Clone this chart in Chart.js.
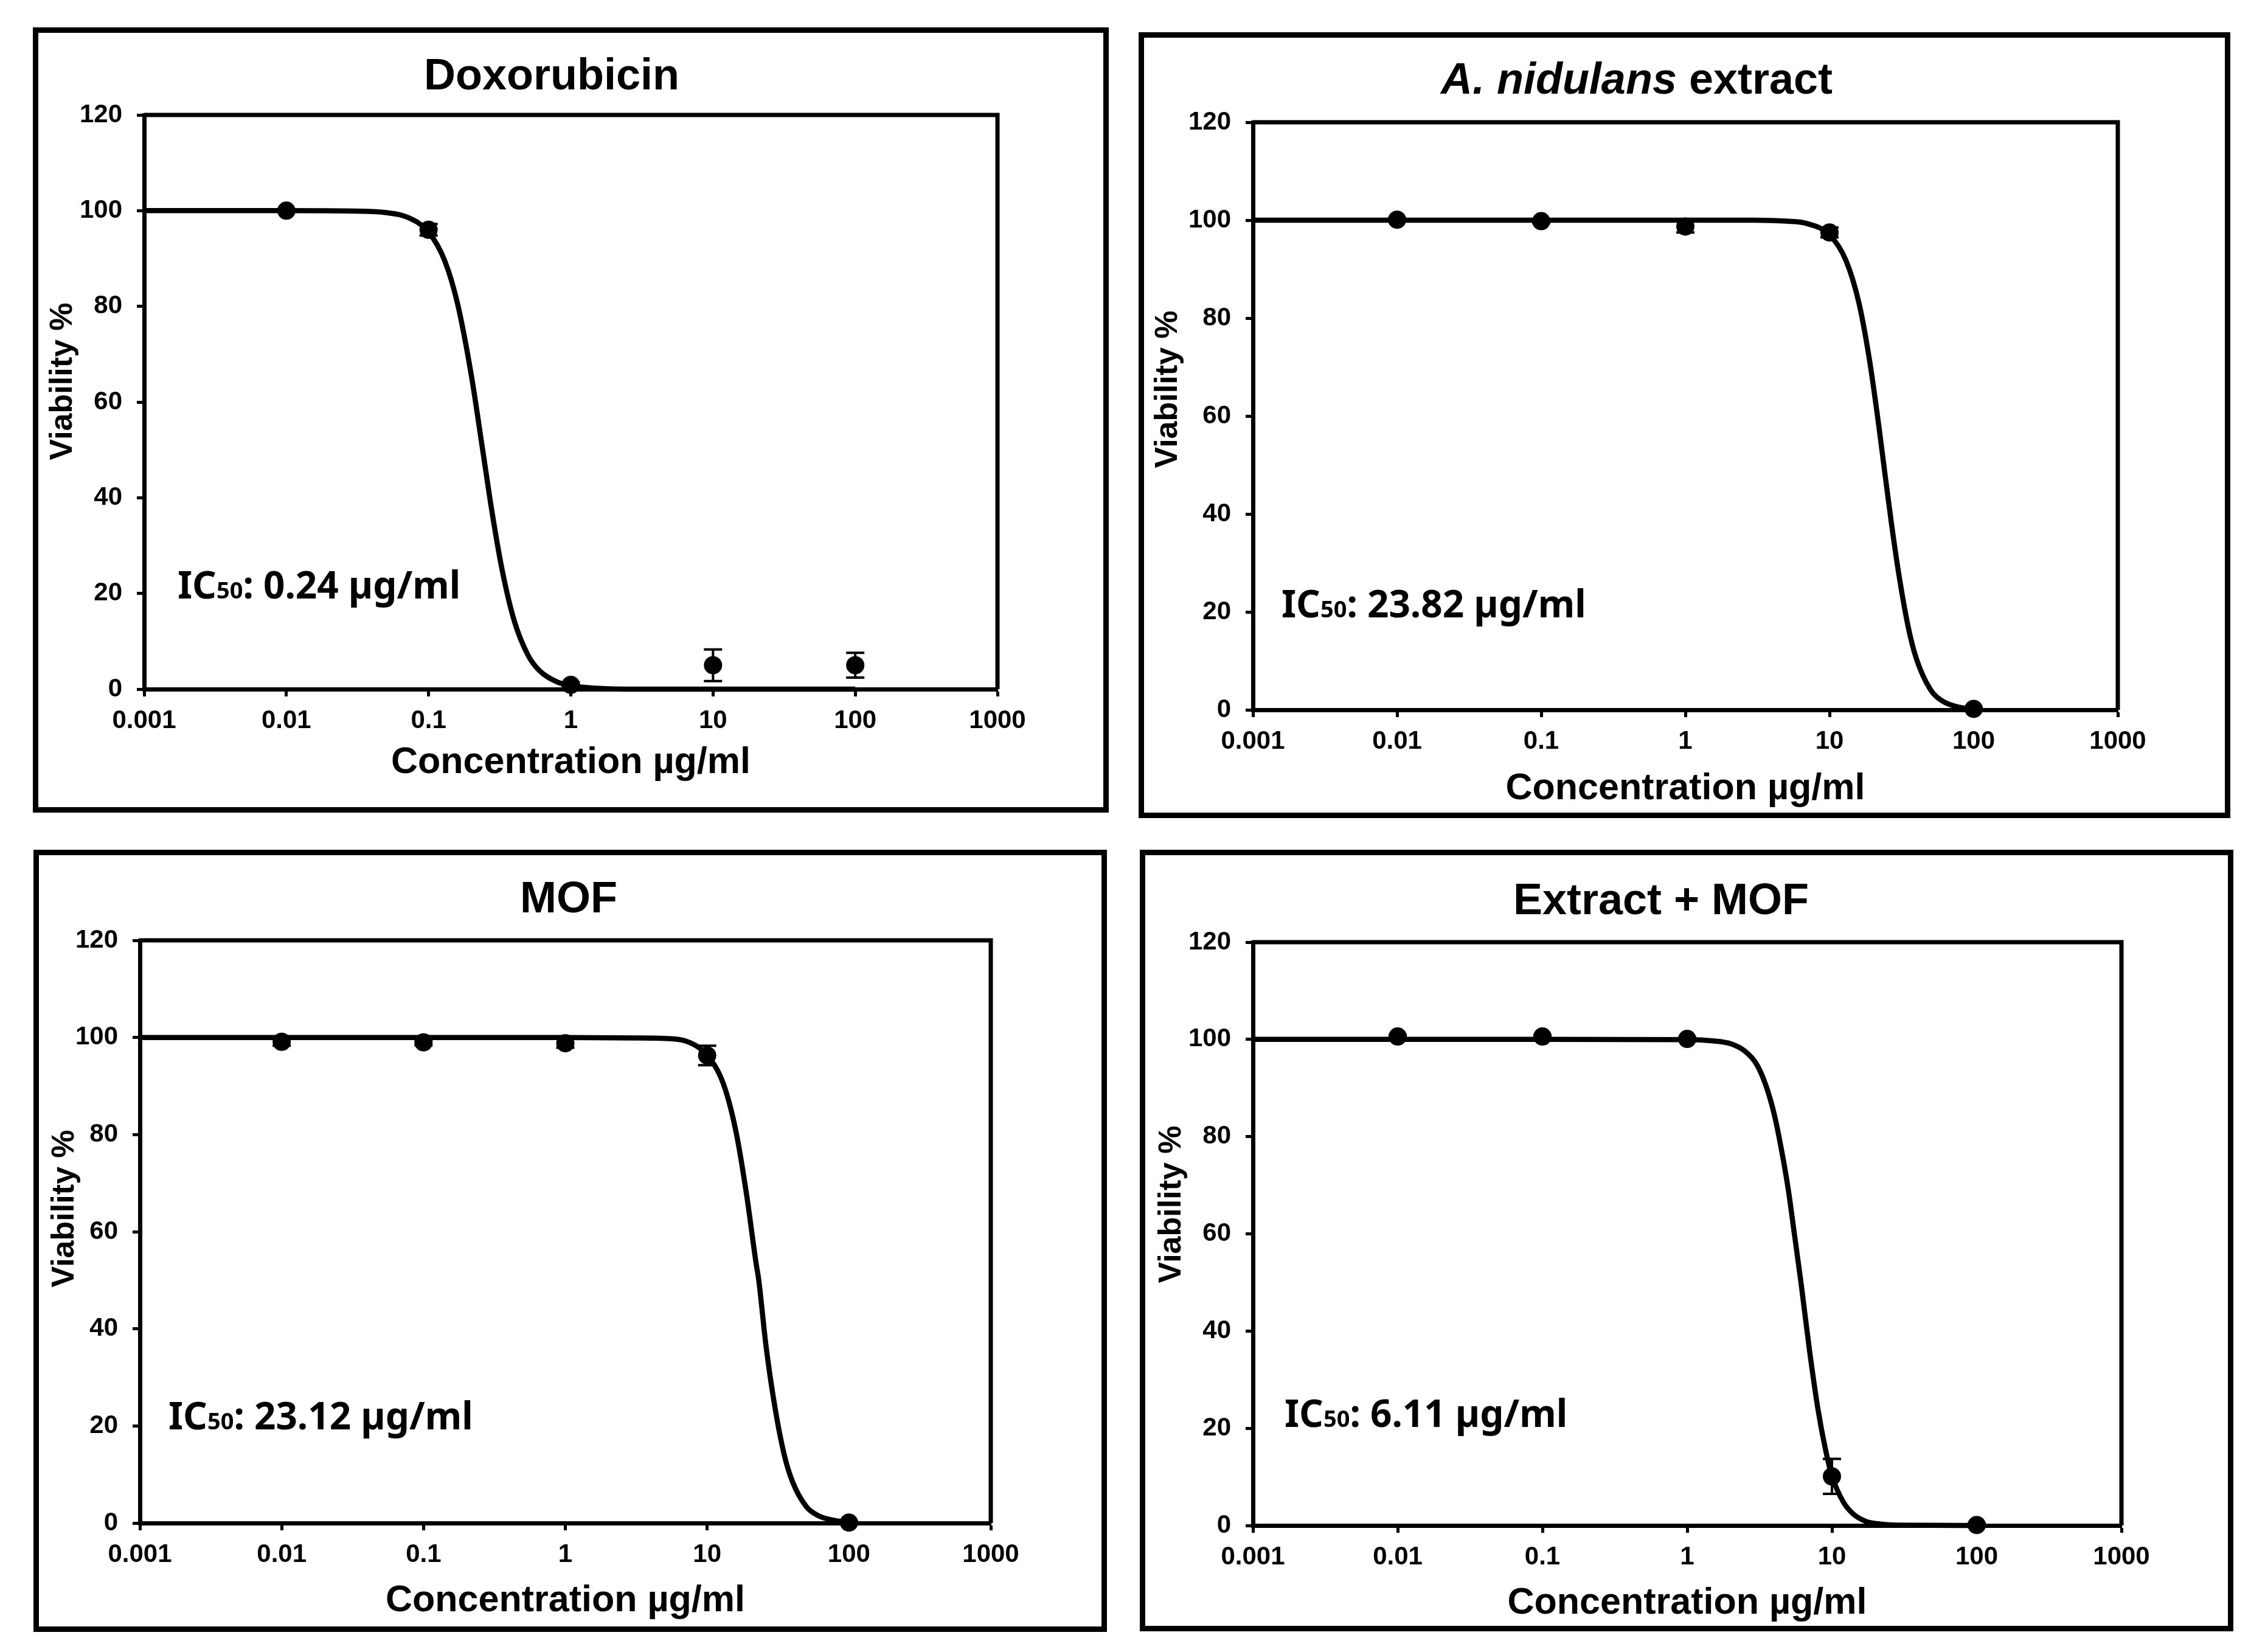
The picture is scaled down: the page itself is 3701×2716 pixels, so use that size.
<!DOCTYPE html>
<html>
<head>
<meta charset="utf-8">
<script src="https://cdn.jsdelivr.net/npm/chart.js@4.4.1/dist/chart.umd.min.js"></script>
<style>
  html, body { margin: 0; padding: 0; background: #fff; }
  body { width: 3701px; height: 2716px; position: relative; overflow: hidden; }
  .panel { position: absolute; border: 9px solid #000; box-sizing: border-box; background: #fff; }
  .panel canvas { position: absolute; left: 0; top: 0; }
</style>
</head>
<body>
<script>
// ---------------- data ----------------
const xTicks = [0.001, 0.01, 0.1, 1, 10, 100, 1000];
const xTickLabels = ['0.001', '0.01', '0.1', '1', '10', '100', '1000'];
const yTicks = [0, 20, 40, 60, 80, 100, 120];
const yTickLabels = ['0', '20', '40', '60', '80', '100', '120'];

// tested concentrations (µg/ml)
const doseX = [0.01, 0.1, 1, 10, 100];

// Doxorubicin
const doxoY = [100, 96, 0.9, 5, 5];
const doxoErr = [0.3, 1.2, 0.5, 3.3, 2.6];
const doxoCurveX = [0.001, 0.01, 0.03, 0.05, 0.07, 0.1, 0.13, 0.16, 0.2, 0.24, 0.28, 0.33, 0.4, 0.5, 0.6, 0.8, 1, 1.5, 3, 10, 100];
const doxoCurveY = [100, 100, 99.9, 99.6, 98.7, 95.5, 89.5, 80.5, 65.5, 50, 36.8, 24.7, 14.3, 7.1, 3.9, 1.5, 0.7, 0.2, 0, 0, 0];

// A. nidulans extract
const extractY = [100.1, 99.8, 98.7, 97.5, 0.2];
const extractErr = [0.3, 0.4, 1.2, 1.0, 0.3];
const extractCurveX = [0.001, 0.01, 0.1, 1, 3, 5, 7, 10, 13, 16, 19, 22, 24, 27, 30, 35, 40, 50, 60, 80, 100];
const extractCurveY = [100, 100, 100, 100, 100, 99.8, 99.3, 97.0, 91.8, 83.1, 71.2, 57.9, 49.2, 37.7, 28.4, 17.2, 10.5, 4.2, 1.9, 0.5, 0.2];

// MOF
const mofY = [99.1, 99.0, 98.8, 96.3, 0.1];
const mofErr = [0.8, 0.6, 0.9, 2.0, 0.3];
const mofCurveX = [0.001, 0.01, 0.1, 1, 3, 5, 7, 10, 13, 16, 19, 22, 23.12, 26, 30, 35, 40, 50, 60, 80, 100];
const mofCurveY = [100, 100, 100, 100, 99.9, 99.8, 99.3, 96.3, 90.5, 80.5, 67.5, 54, 50, 36.5, 24, 14, 8.5, 3.4, 1.6, 0.5, 0.2];

// Extract + MOF
const comboY = [100.6, 100.6, 100.1, 10.1, 0.1];
const comboErr = [0.3, 0.3, 0.3, 3.6, 0.3];
const comboCurveX = [0.001, 0.01, 0.1, 1, 1.5, 2, 2.5, 3, 3.5, 4, 4.5, 5, 5.5, 6.11, 7, 8, 9, 10, 12, 14, 17, 20, 30, 100];
const comboCurveY = [100, 100, 100, 99.95, 99.7, 99.1, 97.6, 95, 90.5, 84.5, 77, 69, 60, 50, 36, 24, 15.8, 10.2, 4.8, 2.4, 0.9, 0.4, 0.05, 0];

// ---------------- layout (page pixels) ----------------
const BORDER = 9;
const SANS = "'Liberation Sans', Arial, sans-serif";
const LABEL_FONT = "'Noto Sans', 'Open Sans', sans-serif";

// tick labels in the original are a narrow face; use one if present
function hasFont(name) {
  const c = document.createElement('canvas').getContext('2d');
  c.font = 'bold 40px monospace';
  const a = c.measureText('0.001 1000').width;
  c.font = "bold 40px '" + name + "', monospace";
  return c.measureText('0.001 1000').width !== a;
}
const narrow = ['Liberation Sans Narrow', 'Arial Narrow', 'Noto Sans Condensed'].find(hasFont);
const TICK_FONT = narrow ? "'" + narrow + "', " + SANS : SANS;
const TICK_SIZE = narrow ? 44 : 42;

const panels = [
  {
    title: [{text: 'Doxorubicin'}],
    ic50: '0.24 µg/ml',
    y: doxoY, err: doxoErr, curveX: doxoCurveX, curveY: doxoCurveY,
    box: {l: 54, t: 45, r: 1823, b: 1336},
    plot: {l: 237, t: 189, r: 1640, b: 1133},
    titlePos: [907, 121], yTitlePos: [99, 627], xTitleY: 1254, icPos: [292, 984]
  },
  {
    title: [{text: 'A. nidulans', italic: true}, {text: ' extract'}],
    ic50: '23.82 µg/ml',
    y: extractY, err: extractErr, curveX: extractCurveX, curveY: extractCurveY,
    box: {l: 1872, t: 53, r: 3667, b: 1345},
    plot: {l: 2060, t: 201, r: 3482, b: 1167},
    titlePos: [2691, 128], yTitlePos: [1916, 640], xTitleY: 1297, icPos: [2107, 1015]
  },
  {
    title: [{text: 'MOF'}],
    ic50: '23.12 µg/ml',
    y: mofY, err: mofErr, curveX: mofCurveX, curveY: mofCurveY,
    box: {l: 55, t: 1397, r: 1820, b: 2683},
    plot: {l: 230, t: 1546, r: 1629, b: 2504},
    titlePos: [935, 1474], yTitlePos: [102, 1987], xTitleY: 2632, icPos: [277, 2350]
  },
  {
    title: [{text: 'Extract + MOF'}],
    ic50: '6.11 µg/ml',
    y: comboY, err: comboErr, curveX: comboCurveX, curveY: comboCurveY,
    box: {l: 1874, t: 1397, r: 3672, b: 2682},
    plot: {l: 2060, t: 1549, r: 3488, b: 2508},
    titlePos: [2731, 1477], yTitlePos: [1922, 1980], xTitleY: 2636, icPos: [2112, 2346]
  }
];

// ---------------- plugins ----------------
const errorBars = {
  id: 'errorBars',
  beforeDatasetsDraw(chart) {
    const {ctx, scales: {x, y}} = chart;
    chart.data.datasets.forEach(ds => {
      if (!ds.err) return;
      ctx.save();
      ctx.strokeStyle = '#000';
      ctx.lineWidth = 4;
      ds.data.forEach((pt, i) => {
        const px = x.getPixelForValue(pt.x);
        const top = y.getPixelForValue(pt.y + ds.err[i]);
        const bot = y.getPixelForValue(pt.y - ds.err[i]);
        ctx.beginPath();
        ctx.moveTo(px, top); ctx.lineTo(px, bot);
        ctx.moveTo(px - 15, top); ctx.lineTo(px + 15, top);
        ctx.moveTo(px - 15, bot); ctx.lineTo(px + 15, bot);
        ctx.stroke();
      });
      ctx.restore();
    });
  }
};

const panelText = {
  id: 'panelText',
  afterDraw(chart, args, o) {
    const {ctx, chartArea: a} = chart;
    ctx.save();
    ctx.fillStyle = '#000';

    // top and right edges of the plot frame
    ctx.strokeStyle = '#000';
    ctx.lineWidth = 7;
    ctx.beginPath();
    ctx.moveTo(a.left, a.top);
    ctx.lineTo(a.right, a.top);
    ctx.lineTo(a.right, a.bottom);
    ctx.stroke();

    // panel title, centred, may mix italic and upright parts
    const ts = 72;
    ctx.textBaseline = 'alphabetic';
    ctx.textAlign = 'left';
    const fonts = o.title.map(s => (s.italic ? 'italic ' : '') + 'bold ' + ts + 'px ' + SANS);
    let total = 0;
    o.title.forEach((s, i) => { ctx.font = fonts[i]; total += ctx.measureText(s.text).width; });
    let tx = o.titlePos[0] - total / 2;
    const tBase = o.titlePos[1] + ts * 0.716 / 2;
    o.title.forEach((s, i) => {
      ctx.font = fonts[i];
      ctx.fillText(s.text, tx, tBase);
      tx += ctx.measureText(s.text).width;
    });

    // y axis title
    const ys = 52;
    ctx.save();
    ctx.translate(o.yTitlePos[0], o.yTitlePos[1]);
    ctx.rotate(-Math.PI / 2);
    ctx.textAlign = 'center';
    ctx.font = 'bold ' + ys + 'px ' + SANS;
    ctx.fillText('Viability %', 0, ys * 0.716 / 2);
    ctx.restore();

    // IC50 label
    const big = 62, small = 38;
    let ix = o.icPos[0];
    const ib = o.icPos[1];
    ctx.font = 'bold ' + big + 'px ' + LABEL_FONT;
    ctx.fillText('IC', ix, ib);
    ix += ctx.measureText('IC').width;
    ctx.font = 'bold ' + small + 'px ' + LABEL_FONT;
    ctx.fillText('50', ix, ib);
    ix += ctx.measureText('50').width;
    ctx.font = 'bold ' + big + 'px ' + LABEL_FONT;
    ctx.fillText(': ' + o.ic50, ix, ib);

    ctx.restore();
  }
};

// ---------------- charts ----------------
function makePanel(p) {
  const w = p.box.r - p.box.l, h = p.box.b - p.box.t;
  const cw = w - 2 * BORDER, ch = h - 2 * BORDER;
  const ox = p.box.l + BORDER, oy = p.box.t + BORDER;

  const div = document.createElement('div');
  div.className = 'panel';
  div.style.left = p.box.l + 'px';
  div.style.top = p.box.t + 'px';
  div.style.width = w + 'px';
  div.style.height = h + 'px';
  const canvas = document.createElement('canvas');
  canvas.width = cw;
  canvas.height = ch;
  canvas.style.width = cw + 'px';
  canvas.style.height = ch + 'px';
  div.appendChild(canvas);
  document.body.appendChild(div);

  // plot area inside the canvas
  const plot = {l: p.plot.l - ox, t: p.plot.t - oy, r: p.plot.r - ox, b: p.plot.b - oy};
  const xTitleSize = 61;
  const xTitlePad = Math.max(0, ch - (p.xTitleY - oy) - xTitleSize * 1.2 / 2);

  const curve = p.curveX.map((x, i) => ({x: x, y: p.curveY[i]}));
  const points = doseX.map((x, i) => ({x: x, y: p.y[i]}));

  new Chart(canvas, {
    type: 'scatter',
    data: {
      datasets: [
        {
          data: curve,
          showLine: true,
          borderColor: '#000',
          borderWidth: 8.5,
          pointRadius: 0,
          cubicInterpolationMode: 'monotone',
          clip: false
        },
        {
          data: points,
          showLine: false,
          pointRadius: 15,
          pointBackgroundColor: '#000',
          pointBorderWidth: 0,
          err: p.err,
          clip: false
        }
      ]
    },
    options: {
      responsive: false,
      animation: false,
      devicePixelRatio: 1,
      layout: { padding: { left: 0, top: plot.t, right: cw - plot.r, bottom: 0 } },
      plugins: {
        legend: { display: false },
        tooltip: { enabled: false },
        panelText: {
          title: p.title,
          ic50: p.ic50,
          titlePos: [p.titlePos[0] - ox, p.titlePos[1] - oy],
          yTitlePos: [p.yTitlePos[0] - ox, p.yTitlePos[1] - oy],
          icPos: [p.icPos[0] - ox, p.icPos[1] - oy]
        }
      },
      scales: {
        x: {
          type: 'logarithmic',
          min: 0.001,
          max: 1000,
          afterBuildTicks: s => { s.ticks = xTicks.map(v => ({value: v})); },
          afterFit: s => { s.height = ch - plot.b; },
          ticks: {
            autoSkip: false,
            maxRotation: 0,
            padding: 15,
            color: '#000',
            font: { family: TICK_FONT, size: TICK_SIZE, weight: 'bold' },
            callback: (v, i) => xTickLabels[i]
          },
          grid: { drawOnChartArea: false, drawTicks: true, tickLength: 12, tickWidth: 5, tickColor: '#000' },
          border: { display: true, color: '#000', width: 7 },
          title: {
            display: true,
            text: 'Concentration µg/ml',
            color: '#000',
            font: { family: SANS, size: xTitleSize, weight: 'bold' },
            padding: { top: 0, bottom: xTitlePad }
          }
        },
        y: {
          min: 0,
          max: 120,
          afterBuildTicks: s => { s.ticks = yTicks.map(v => ({value: v})); },
          afterFit: s => { s.width = plot.l; },
          ticks: {
            padding: 24,
            color: '#000',
            font: { family: TICK_FONT, size: TICK_SIZE, weight: 'bold' },
            callback: (v, i) => yTickLabels[i]
          },
          grid: { drawOnChartArea: false, drawTicks: true, tickLength: 12, tickWidth: 5, tickColor: '#000' },
          border: { display: true, color: '#000', width: 7 }
        }
      }
    },
    plugins: [errorBars, panelText]
  });
}

panels.forEach(makePanel);
</script>
</body>
</html>
